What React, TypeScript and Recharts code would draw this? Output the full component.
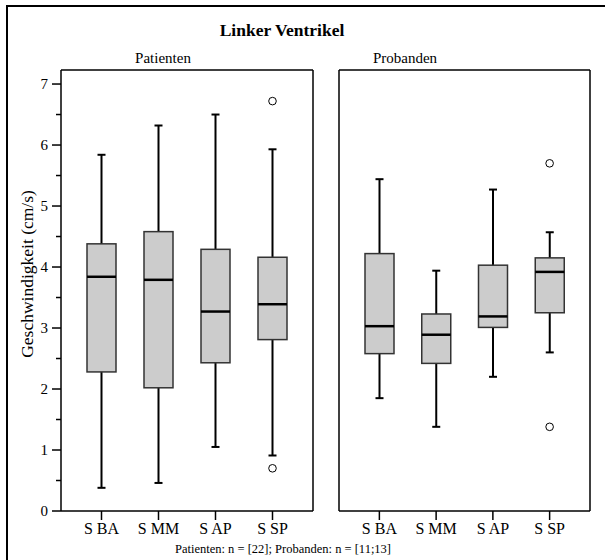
import React from "react";
import { Bar, ComposedChart, Scatter, XAxis, YAxis } from "recharts";

const categories = ["S BA", "S MM", "S AP", "S SP"];

// Patienten
const patMin = [0.38, 0.46, 1.05, 0.91];
const patQ1 = [2.28, 2.02, 2.43, 2.81];
const patMedian = [3.84, 3.79, 3.27, 3.39];
const patQ3 = [4.38, 4.58, 4.29, 4.16];
const patMax = [5.84, 6.32, 6.5, 5.93];
const patOutliers = [
  { name: "S SP", value: 6.72 },
  { name: "S SP", value: 0.7 },
];

// Probanden
const proMin = [1.85, 1.38, 2.2, 2.6];
const proQ1 = [2.58, 2.42, 3.01, 3.25];
const proMedian = [3.03, 2.89, 3.19, 3.92];
const proQ3 = [4.22, 3.23, 4.03, 4.15];
const proMax = [5.44, 3.94, 5.27, 4.57];
const proOutliers = [
  { name: "S SP", value: 5.7 },
  { name: "S SP", value: 1.38 },
];

const yTicks = [0, 0.5, 1, 1.5, 2, 2.5, 3, 3.5, 4, 4.5, 5, 5.5, 6, 6.5, 7];
const yDomain = [0, 7.23];

const FONT = "Liberation Serif, Times New Roman, serif";

const buildRows = (
  min: number[],
  q1: number[],
  median: number[],
  q3: number[],
  max: number[]
) =>
  categories.map((name, i) => ({
    name,
    min: min[i],
    q1: q1[i],
    median: median[i],
    q3: q3[i],
    max: max[i],
  }));

const patRows = buildRows(patMin, patQ1, patMedian, patQ3, patMax);
const proRows = buildRows(proMin, proQ1, proMedian, proQ3, proMax);

// whisker + box + median, drawn inside the [min, max] range bar
const BoxShape = (props: any) => {
  const { x, y, width, height, payload } = props;
  if (!payload || height == null) return null;
  const top = height >= 0 ? y : y + height;
  const h = Math.abs(height);
  const span = payload.max - payload.min;
  const py = (v: number) => top + (h * (payload.max - v)) / span;
  const cx = x + width / 2;
  return (
    <g>
      <line x1={cx} x2={cx} y1={py(payload.max)} y2={py(payload.min)} stroke="#000" strokeWidth={2} />
      <line x1={cx - 4} x2={cx + 4} y1={py(payload.max)} y2={py(payload.max)} stroke="#000" strokeWidth={2} />
      <line x1={cx - 4} x2={cx + 4} y1={py(payload.min)} y2={py(payload.min)} stroke="#000" strokeWidth={2} />
      <rect
        x={x}
        y={py(payload.q3)}
        width={width}
        height={py(payload.q1) - py(payload.q3)}
        fill="#cccccc"
        stroke="#333"
        strokeWidth={1.5}
      />
      <line
        x1={x}
        x2={x + width}
        y1={py(payload.median)}
        y2={py(payload.median)}
        stroke="#000"
        strokeWidth={2.5}
      />
    </g>
  );
};

const Outlier = (props: any) => {
  const { cx, cy } = props;
  if (cx == null || cy == null) return null;
  return <circle cx={cx} cy={cy} r={3.8} fill="#fff" stroke="#000" strokeWidth={1} />;
};

const YTick = (props: any) => {
  const { x, y, payload } = props;
  const v = payload.value;
  const axisX = x + 9 + 4;
  const major = Number.isInteger(v);
  return (
    <g>
      <line x1={axisX - (major ? 9 : 5)} x2={axisX} y1={y} y2={y} stroke="#000" strokeWidth={1.5} />
      {major && (
        <text x={x} y={y} dy="0.35em" textAnchor="end" fontSize={15} fontFamily={FONT} fill="#000">
          {v}
        </text>
      )}
    </g>
  );
};

const Panel = ({ rows, outliers, showY }: { rows: any[]; outliers: any[]; showY: boolean }) => (
  <ComposedChart
    width={showY ? 320 : 268}
    height={560}
    data={rows}
    margin={{ top: 69, right: 6, bottom: 19, left: showY ? 21 : 9 }}
  >
    <XAxis
      dataKey="name"
      type="category"
      allowDuplicatedCategory={false}
      padding={{ left: 12, right: 12 }}
      height={30}
      tickSize={9}
      tickMargin={3}
      axisLine={{ stroke: "#000", strokeWidth: 1.5 }}
      tickLine={{ stroke: "#000", strokeWidth: 1.5 }}
      tick={{ fill: "#000", fontSize: 16, fontFamily: FONT }}
    />
    <XAxis
      xAxisId="top"
      dataKey="name"
      orientation="top"
      height={1}
      tick={false}
      tickLine={false}
      axisLine={{ stroke: "#000", strokeWidth: 1.5 }}
    />
    <YAxis
      type="number"
      domain={yDomain}
      allowDataOverflow
      ticks={showY ? yTicks : []}
      width={showY ? 40 : 1}
      tickSize={9}
      tickMargin={4}
      tickLine={false}
      tick={showY ? <YTick /> : false}
      axisLine={{ stroke: "#000", strokeWidth: 1.5 }}
    />
    <YAxis
      yAxisId="r"
      orientation="right"
      type="number"
      domain={yDomain}
      width={1}
      tick={false}
      tickLine={false}
      axisLine={{ stroke: "#000", strokeWidth: 1.5 }}
    />
    <Bar
      dataKey={(d: any) => [d.min, d.max]}
      barSize={29}
      shape={<BoxShape />}
      isAnimationActive={false}
    />
    <Scatter data={outliers} dataKey="value" shape={<Outlier />} isAnimationActive={false} />
  </ComposedChart>
);

export default function App() {
  return (
    <div style={{ position: "absolute", left: 0, top: 0, width: 605, height: 560, background: "#fff", overflow: "hidden" }}>
      <div style={{ position: "absolute", left: 0, top: 0 }}>
        <Panel rows={patRows} outliers={patOutliers} showY />
      </div>
      <div style={{ position: "absolute", left: 329, top: 0 }}>
        <Panel rows={proRows} outliers={proOutliers} showY={false} />
      </div>
      <svg
        width={605}
        height={560}
        style={{ position: "absolute", left: 0, top: 0, pointerEvents: "none" }}
      >
        <line x1={7} x2={7} y1={5} y2={560} stroke="#000" strokeWidth={2} />
        <line x1={6} x2={605} y1={6} y2={6} stroke="#000" strokeWidth={2} />
        <text x={282} y={36} textAnchor="middle" fontSize={17.5} fontWeight="bold" fontFamily={FONT} fill="#000">
          Linker Ventrikel
        </text>
        <text x={163} y={63} textAnchor="middle" fontSize={15} fontFamily={FONT} fill="#000">
          Patienten
        </text>
        <text x={405} y={63} textAnchor="middle" fontSize={15} fontFamily={FONT} fill="#000">
          Probanden
        </text>
        <text
          x={33}
          y={274}
          transform="rotate(-90 33 274)"
          textAnchor="middle"
          fontSize={17.5}
          fontFamily={FONT}
          fill="#000"
        >
          Geschwindigkeit (cm/s)
        </text>
        <text x={283} y={553} textAnchor="middle" fontSize={12.5} fontFamily={FONT} fill="#000">
          Patienten: n = [22]; Probanden: n = [11;13]
        </text>
      </svg>
    </div>
  );
}
